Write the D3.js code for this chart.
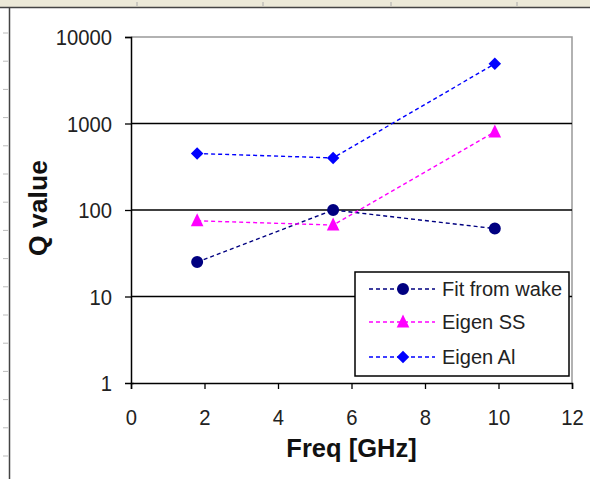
<!DOCTYPE html>
<html><head><meta charset="utf-8">
<script src="https://cdn.jsdelivr.net/npm/d3@7"></script>
<style>body{margin:0;background:#fff;}svg{display:block;font-family:"Liberation Sans",Arial,sans-serif;}</style>
</head><body>
<svg id="c" width="590" height="479"></svg>
<script>
const freqs = [1.8, 5.5, 9.9];
const fitFromWake = [25, 100, 61];
const eigenSS = [75, 67, 800];
const eigenAl = [450, 400, 4900];
const xTicks = [0, 2, 4, 6, 8, 10, 12];
const yTicks = [1, 10, 100, 1000, 10000];
const seriesNames = ["Fit from wake", "Eigen SS", "Eigen Al"];
const seriesColors = ["#000080", "#FF00FF", "#0000FF"];
const seriesShapes = ["circle", "triangle", "diamond"];
const seriesValues = [fitFromWake, eigenSS, eigenAl];

const svg = d3.select("#c");
const x = d3.scaleLinear().domain([0, 12]).range([131, 572]);
const y = d3.scaleLog().domain([1, 10000]).range([383, 37]);

// window decoration (spreadsheet frame)
svg.append("rect").attr("x",0).attr("y",0).attr("width",590).attr("height",7).attr("fill","#ECE9D8");
svg.append("line").attr("x1",0).attr("x2",590).attr("y1",7.5).attr("y2",7.5).attr("stroke","#444").attr("stroke-width",1.5);
svg.append("line").attr("x1",9.5).attr("x2",9.5).attr("y1",7).attr("y2",479).attr("stroke","#444").attr("stroke-width",1.5);
[137, 263, 391, 517].forEach(px => svg.append("line").attr("x1",px).attr("x2",px).attr("y1",2).attr("y2",6).attr("stroke","#aaa"));
d3.range(33, 479, 28.2).forEach(py => svg.append("line").attr("x1",3).attr("x2",8).attr("y1",py).attr("y2",py).attr("stroke","#bbb"));

// plot border (gray top/right)
svg.append("path").attr("d", `M${x(0)},${y(10000)}H${x(12)}V${y(1)}`).attr("fill","none").attr("stroke","#999").attr("stroke-width",1.5);

// gridlines
svg.append("g").selectAll("line").data([10, 100, 1000]).join("line")
  .attr("x1", x(0)).attr("x2", x(12)).attr("y1", d => y(d)).attr("y2", d => y(d))
  .attr("stroke", "#000").attr("stroke-width", 1.4);

// axes
const sx = 0.92;
const yAxis = d3.axisLeft(y).tickValues(yTicks).tickFormat(d3.format("d")).tickSizeOuter(0).tickSize(6);
const gy = svg.append("g").attr("transform", `translate(${x(0)},0)`).call(yAxis);
const xAxis = d3.axisBottom(x).tickValues(xTicks).tickFormat(d3.format("d")).tickSizeOuter(0).tickSize(6);
const gx = svg.append("g").attr("transform", `translate(0,${y(1)})`).call(xAxis);
[gx, gy].forEach(g => {
  g.select(".domain").attr("stroke", "#000").attr("stroke-width", 1.5);
  g.selectAll(".tick line").attr("stroke", "#000").attr("stroke-width", 1.3);
  g.selectAll("text").attr("font-size", 22).attr("fill", "#222")
    .attr("font-family", '"Liberation Sans",Arial,sans-serif').attr("transform", `scale(${sx},1)`);
});
gy.selectAll("text").attr("x", -19 / sx).attr("dy", "0.36em");
gx.selectAll("text").attr("y", 42).attr("dy", 0);
gy.select(".tick:first-of-type line").attr("x2", 3);

// axis titles
svg.append("text").attr("x", x(6)).attr("y", 457).attr("text-anchor", "middle")
  .attr("font-size", 25.5).attr("font-weight", "bold").attr("fill", "#111").text("Freq [GHz]");
svg.append("text").attr("transform", `translate(47,208) rotate(-90)`).attr("text-anchor", "middle")
  .attr("font-size", 26.5).attr("font-weight", "bold").attr("fill", "#111").text("Q value");

// symbols
function symPath(shape) {
  if (shape === "circle") return d3.symbol(d3.symbolCircle, 113)();
  if (shape === "triangle") return "M0,-7.5L6.3,5.5L-6.3,5.5Z";
  return d3.symbol(d3.symbolDiamond2, 100)();
}

// series
const line = d3.line().x(d => x(d[0])).y(d => y(d[1]));
seriesValues.forEach((vals, i) => {
  const pts = freqs.map((f, j) => [f, vals[j]]);
  svg.append("path").attr("d", line(pts)).attr("fill", "none")
    .attr("stroke", seriesColors[i]).attr("stroke-width", 1.4).attr("stroke-dasharray", "4,3");
});
seriesValues.forEach((vals, i) => {
  svg.append("g").selectAll("path").data(freqs.map((f, j) => [f, vals[j]])).join("path")
    .attr("d", symPath(seriesShapes[i]))
    .attr("transform", d => `translate(${x(d[0])},${y(d[1])})`)
    .attr("fill", seriesColors[i]);
});

// legend
const lg = svg.append("g");
lg.append("rect").attr("x", 355).attr("y", 272).attr("width", 214).attr("height", 104)
  .attr("fill", "#fff").attr("stroke", "#000").attr("stroke-width", 1.5);
const rowY = [289, 322, 357];
seriesNames.forEach((name, i) => {
  lg.append("line").attr("x1", 369).attr("x2", 435).attr("y1", rowY[i]).attr("y2", rowY[i])
    .attr("stroke", seriesColors[i]).attr("stroke-width", 1.4).attr("stroke-dasharray", "4,3");
  lg.append("path").attr("d", symPath(seriesShapes[i]))
    .attr("transform", `translate(403,${rowY[i]})`).attr("fill", seriesColors[i]);
  lg.append("text").attr("x", 442).attr("y", rowY[i]).attr("dy", "0.36em")
    .attr("font-size", 20).attr("fill", "#222").text(name);
});
</script>
</body></html>
